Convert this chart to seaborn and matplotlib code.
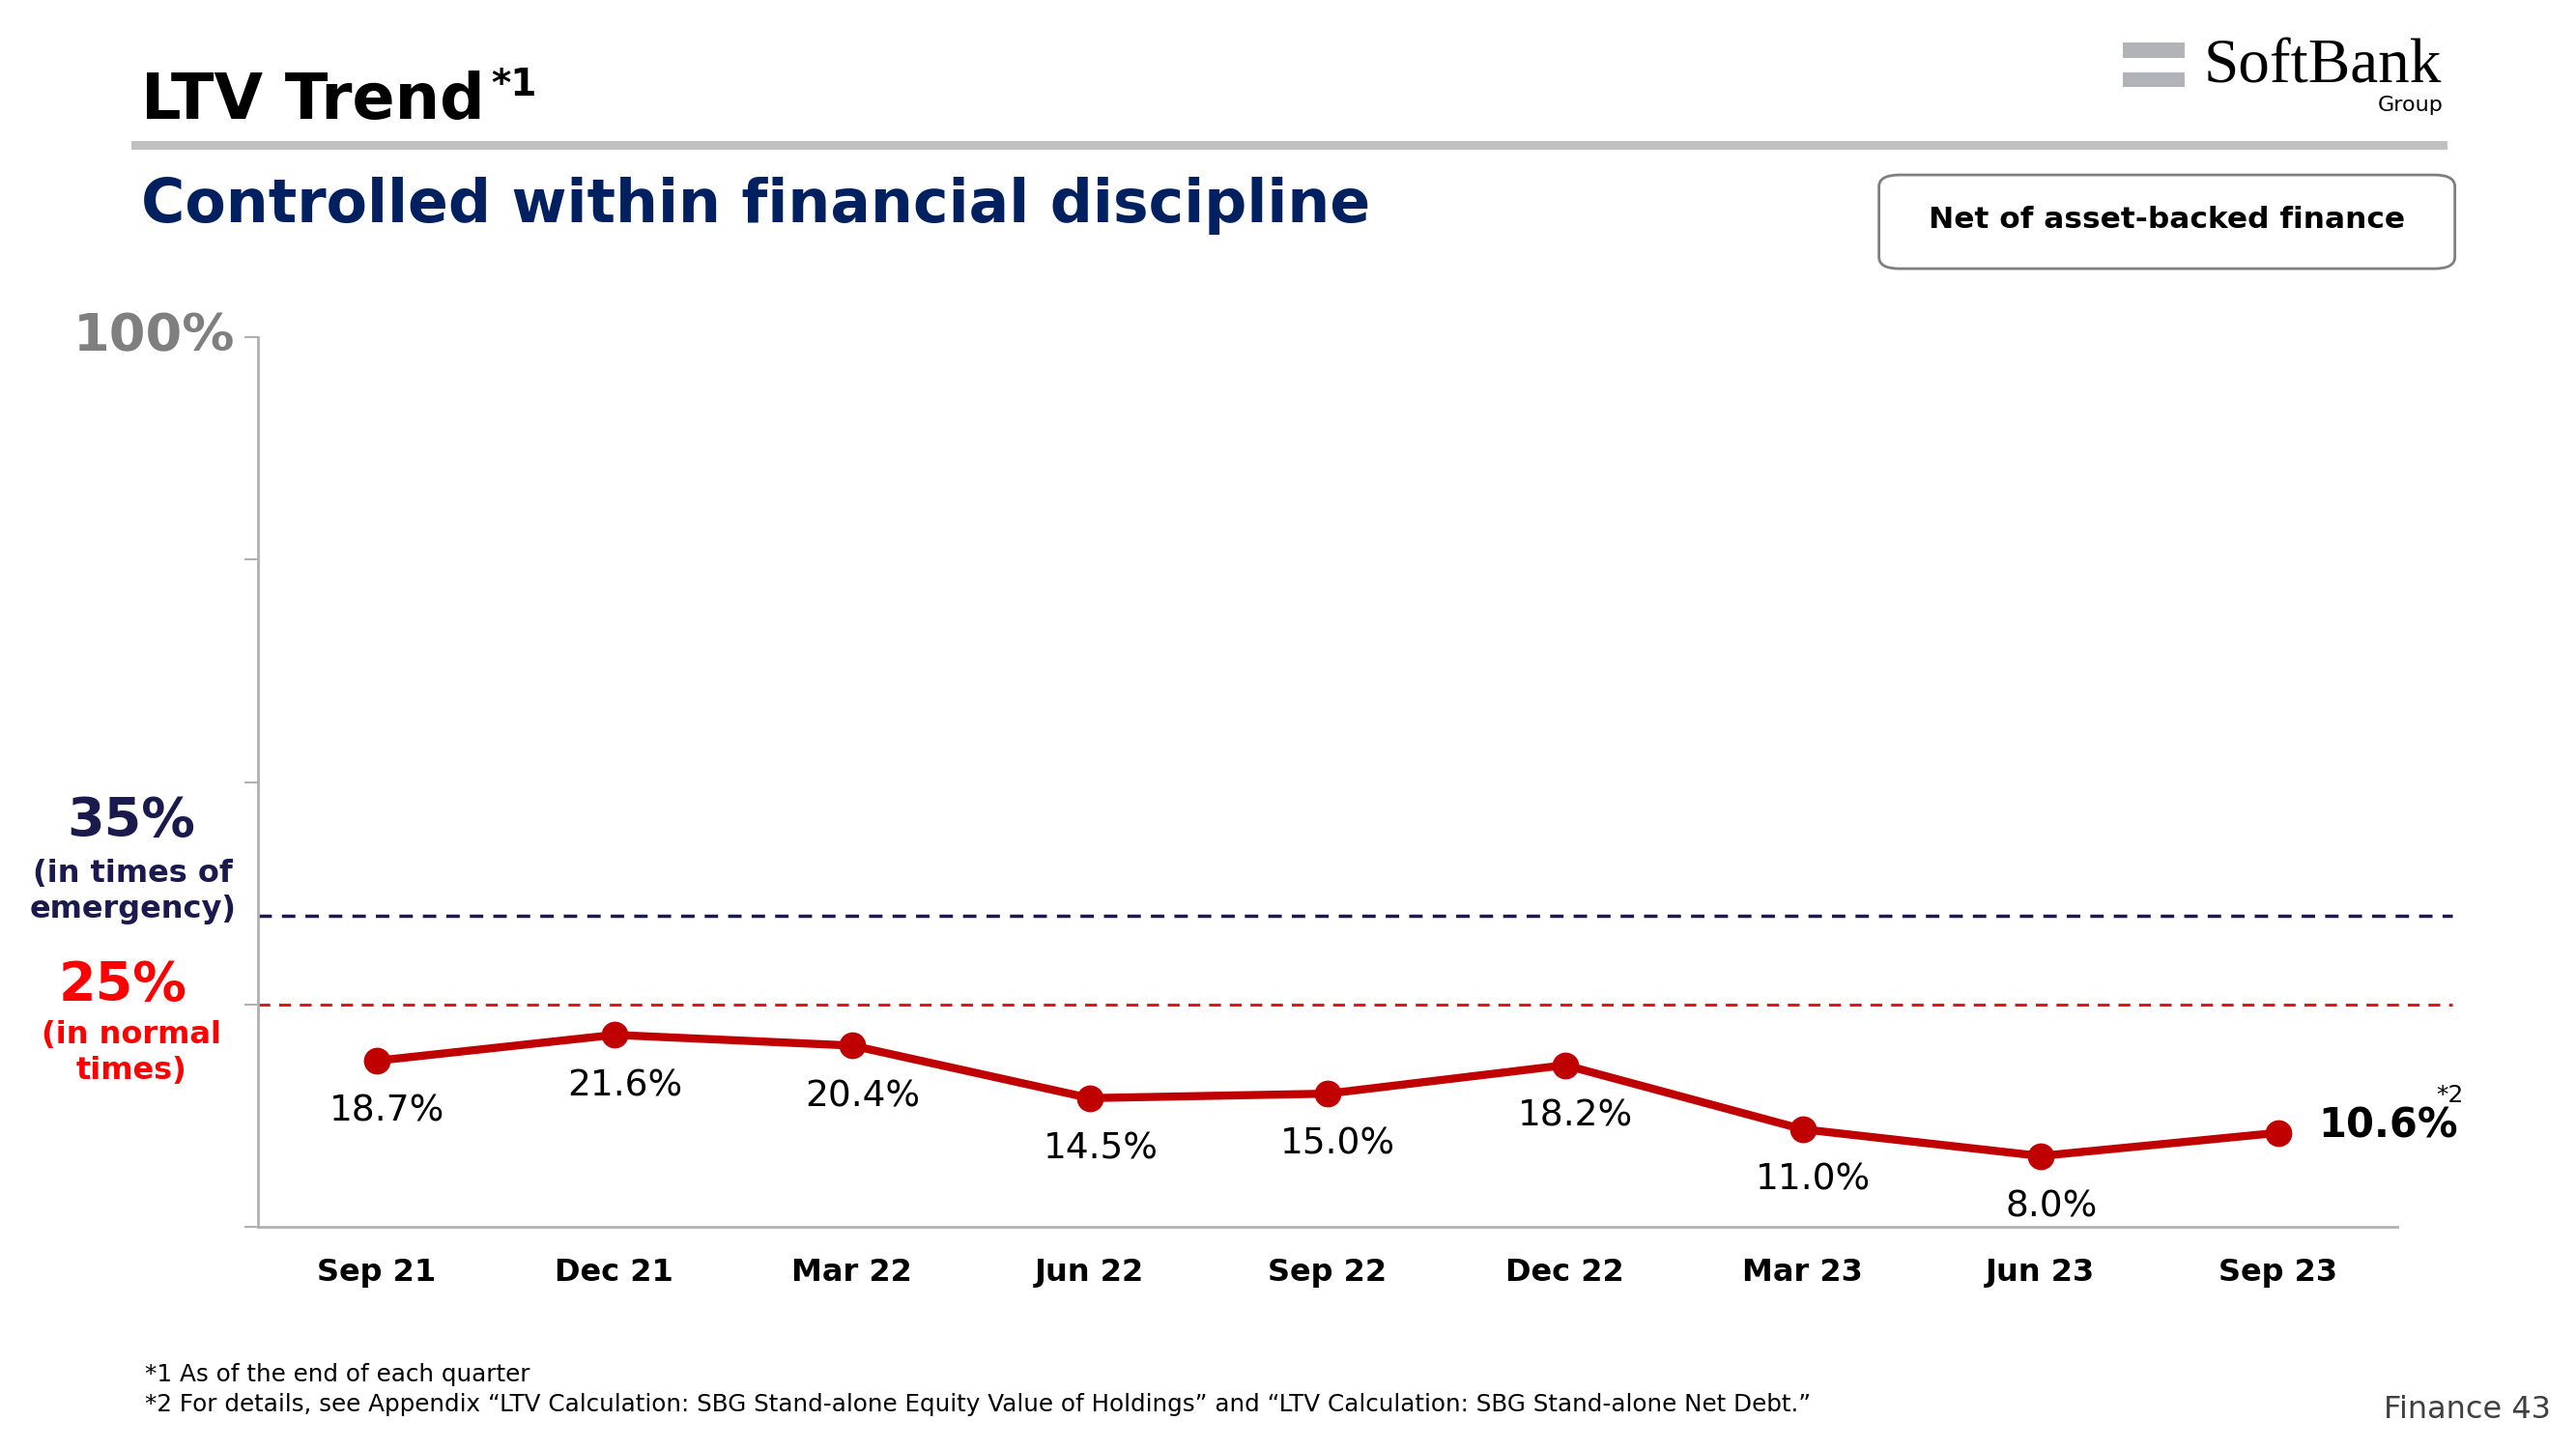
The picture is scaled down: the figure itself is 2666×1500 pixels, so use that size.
import matplotlib.pyplot as plt
import seaborn as sns
import pandas as pd
from matplotlib.patches import FancyBboxPatch, Rectangle

quarters = ["Sep 21", "Dec 21", "Mar 22", "Jun 22", "Sep 22", "Dec 22", "Mar 23", "Jun 23", "Sep 23"]
ltv = [18.7, 21.6, 20.4, 14.5, 15.0, 18.2, 11.0, 8.0, 10.6]
emergency_level = 35
normal_level = 25
y_ticks = [0, 25, 50, 75, 100]

RED = "#c00000"
NAVY = "#1a1a4e"
TITLE_NAVY = "#002060"
GRAY = "#b0b0b0"

sns.set_theme(style="white")
plt.rcParams["font.family"] = ["DejaVu Sans"]

W, H = 1568, 882  # layout in reference-pixel units


def fx(px):
    return px / W


def fy(py):
    return 1 - py / H


fig = plt.figure(figsize=(26.66, 15), dpi=100)
ax = fig.add_axes([fx(157), fy(747), fx(1459) - fx(157), fy(205) - fy(747)])

df = pd.DataFrame({"quarter": quarters, "ltv": ltv})
sns.lineplot(data=df, x="quarter", y="ltv", ax=ax, color=RED, linewidth=6,
             marker="o", markersize=20, markeredgewidth=0, sort=False)

ax.set_xlim(-0.5, len(quarters) - 0.5)
ax.set_ylim(0, 100)
ax.set_yticks(y_ticks)
ax.set_yticklabels([])
ax.set_xlabel("")
ax.set_ylabel("")
for s in ["top", "right"]:
    ax.spines[s].set_visible(False)
for s in ["left", "bottom"]:
    ax.spines[s].set_color(GRAY)
    ax.spines[s].set_linewidth(2)
ax.tick_params(axis="y", left=True, length=10, width=1.5, color=GRAY)
ax.tick_params(axis="x", bottom=False, pad=17)
for lbl in ax.get_xticklabels():
    lbl.set_fontweight("bold")
    lbl.set_fontsize(23)
    lbl.set_color("black")

# threshold lines, running a little past the plot area
xmax_frac = (1493 - 157) / (1459 - 157)
ax.axhline(emergency_level, xmin=0, xmax=xmax_frac, color=NAVY, linestyle=(0, (4, 3)),
           linewidth=2.5, clip_on=False)
ax.axhline(normal_level, xmin=0, xmax=xmax_frac, color="#e8141b", linestyle=(0, (4, 3)),
           linewidth=2.2, clip_on=False)

# data labels
for i, v in enumerate(ltv[:-1]):
    ax.annotate(f"{v:.1f}%", (i, v), xytext=(8, -38), textcoords="offset points",
                ha="center", va="center", fontsize=27, color="black")
ax.annotate(f"{ltv[-1]:.1f}%", (len(ltv) - 1, ltv[-1]), xytext=(30, 5),
            textcoords="offset points", ha="left", va="center", fontsize=30,
            fontweight="bold", color="black")
ax.annotate("*2", (len(ltv) - 1, ltv[-1]), xytext=(128, 28),
            textcoords="offset points", ha="center", va="center", fontsize=18, color="black")

# y-axis annotations
fig.text(fx(143), fy(205), "100%", ha="right", va="center", fontsize=39,
         fontweight="bold", color="#7f7f7f")
fig.text(fx(80), fy(500), "35%", ha="center", va="center", fontsize=40,
         fontweight="bold", color=NAVY)
fig.text(fx(81), fy(543), "(in times of\nemergency)", ha="center", va="center",
         fontsize=23, fontweight="bold", color=NAVY, linespacing=1.25)
fig.text(fx(75), fy(600), "25%", ha="center", va="center", fontsize=40,
         fontweight="bold", color="#ff0000")
fig.text(fx(80), fy(641), "(in normal\ntimes)", ha="center", va="center",
         fontsize=23, fontweight="bold", color="#ff0000", linespacing=1.25)

# header
fig.text(fx(86), fy(62), "LTV Trend", ha="left", va="center", fontsize=47,
         fontweight="bold", color="black")
fig.text(fx(299), fy(52), "*1", ha="left", va="center", fontsize=28,
         fontweight="bold", color="black")
fig.patches.append(Rectangle((fx(80), fy(91)), fx(1490) - fx(80), fy(86) - fy(91),
                             transform=fig.transFigure, facecolor="#c0c0c0",
                             edgecolor="none"))
fig.text(fx(86), fy(125), "Controlled within financial discipline", ha="left",
         va="center", fontsize=44.5, fontweight="bold", color=TITLE_NAVY)

# boxed note
fig.patches.append(FancyBboxPatch((fx(1150), fy(160)), fx(1488) - fx(1150), fy(110) - fy(160),
                                  boxstyle="round,pad=0.004,rounding_size=0.008",
                                  transform=fig.transFigure, facecolor="white",
                                  edgecolor="#7f7f7f", linewidth=2))
fig.text(fx(1319), fy(134), "Net of asset-backed finance", ha="center", va="center",
         fontsize=22.5, fontweight="bold", color="black")

# logo
for y0, y1 in [(26, 35), (44, 53)]:
    fig.patches.append(Rectangle((fx(1292), fy(y1)), fx(1330) - fx(1292), fy(y0) - fy(y1),
                                 transform=fig.transFigure, facecolor="#b1b3b6",
                                 edgecolor="none"))
fig.text(fx(1486), fy(41), "SoftBank", ha="right", va="center", fontsize=47,
         family="Liberation Serif", color="black")
fig.text(fx(1487), fy(64), "Group", ha="right", va="center", fontsize=16, color="black")

# footnotes
fig.text(fx(88), fy(837), "*1 As of the end of each quarter", ha="left", va="center",
         fontsize=17.7, color="black")
fig.text(fx(88), fy(855),
         "*2 For details, see Appendix \u201cLTV Calculation: SBG Stand-alone Equity Value of Holdings\u201d "
         "and \u201cLTV Calculation: SBG Stand-alone Net Debt.\u201d",
         ha="left", va="center", fontsize=17.7, color="black")
fig.text(fx(1553), fy(858), "Finance 43", ha="right", va="center", fontsize=23,
         color="#404040")

fig.savefig("out.png", dpi=100, facecolor="white")
